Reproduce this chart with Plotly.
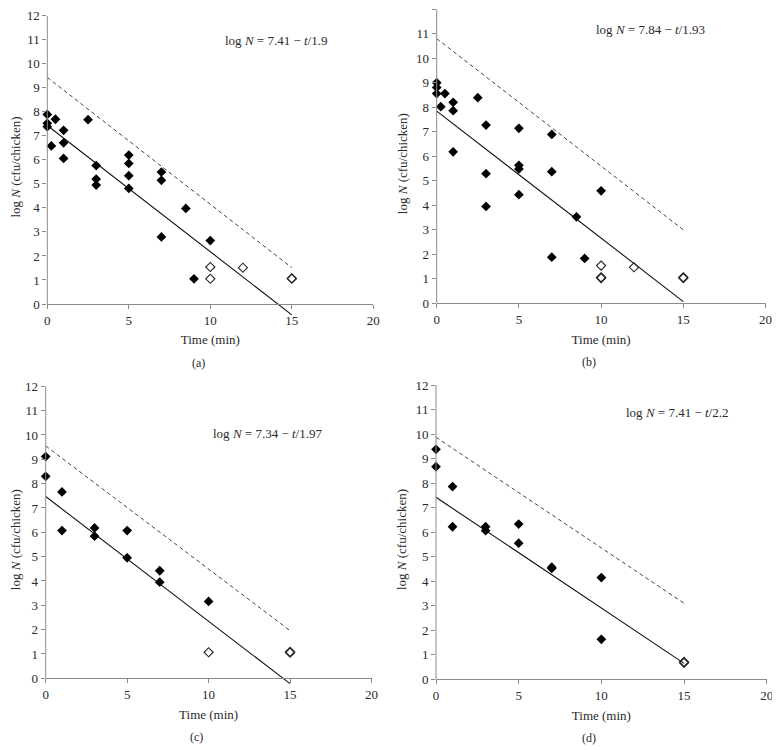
import plotly.graph_objects as go

# ---------------- data ----------------
a_filled_t = [0, 0, 0, 0.25, 0.5, 1, 1, 1, 2.5, 3, 3, 3, 5, 5, 5, 5, 7, 7, 7, 8.5, 9, 10]
a_filled_y = [7.89, 7.52, 7.38, 6.58, 7.69, 7.23, 6.71, 6.06, 7.67, 5.76, 5.20, 4.95,
              6.20, 5.85, 5.34, 4.81, 5.49, 5.15, 2.79, 3.98, 1.05, 2.64]
a_open_t = [10, 10, 12, 15, 15]
a_open_y = [1.54, 1.05, 1.51, 1.05, 1.07]
a_fit_y = [7.43, -0.45]
a_upper_y = [9.43, 1.51]

b_filled_t = [0, 0, 0, 0.25, 0.5, 1, 1, 1, 2.5, 3, 3, 3, 5, 5, 5, 5, 7, 7, 7, 8.5, 9, 10]
b_filled_y = [9.00, 8.81, 8.56, 8.02, 8.56, 8.20, 7.86, 6.18, 8.39, 7.27, 5.29, 3.95,
              7.14, 5.63, 5.48, 4.43, 6.89, 5.37, 1.88, 3.53, 1.83, 4.59]
b_open_t = [10, 10, 10, 12, 15, 15]
b_open_y = [1.54, 1.03, 1.06, 1.47, 1.03, 1.06]
b_fit_y = [7.84, 0.07]
b_upper_y = [10.8, 3.0]

c_filled_t = [0, 0, 1, 1, 3, 3, 5, 5, 7, 7, 10]
c_filled_y = [9.11, 8.30, 7.66, 6.07, 6.18, 5.84, 6.07, 4.95, 4.42, 3.95, 3.16]
c_open_t = [10, 15, 15]
c_open_y = [1.07, 1.05, 1.09]
c_fit_y = [7.47, -0.22]
c_upper_y = [9.55, 1.96]

d_filled_t = [0, 0, 1, 1, 3, 3, 5, 5, 7, 7, 10, 10]
d_filled_y = [9.38, 8.67, 7.86, 6.22, 6.22, 6.06, 6.33, 5.55, 4.52, 4.57, 4.15, 1.63]
d_open_t = [15, 15]
d_open_y = [0.67, 0.71]
d_fit_y = [7.42, 0.65]
d_upper_y = [9.87, 3.10]

fit_t = [0, 15]

equations = ["log <i>N</i> = 7.41 − <i>t</i>/1.9",
             "log <i>N</i> = 7.84 − <i>t</i>/1.93",
             "log <i>N</i> = 7.34 − <i>t</i>/1.97",
             "log <i>N</i> = 7.41 − <i>t</i>/2.2"]
panel_labels = ["(a)", "(b)", "(c)", "(d)"]
x_ticks = [0, 5, 10, 15, 20]
y_ticks = list(range(0, 13))

panels = [
    (a_filled_t, a_filled_y, a_open_t, a_open_y, a_fit_y, a_upper_y),
    (b_filled_t, b_filled_y, b_open_t, b_open_y, b_fit_y, b_upper_y),
    (c_filled_t, c_filled_y, c_open_t, c_open_y, c_fit_y, c_upper_y),
    (d_filled_t, d_filled_y, d_open_t, d_open_y, d_fit_y, d_upper_y),
]

# ---------------- layout geometry (window pixels) ----------------
OFF = 8                      # default page margin around the plot div
W, H = 780 - OFF, 750 - OFF  # figure size so that it fills the window


def px(xw):
    return (xw - OFF) / W


def py(yw):
    return 1 - (yw - OFF) / H


# x0px, x20px, y0px, y12px (window coordinates)
geom = [
    (47.3, 373.3, 304.0, 15.7),
    (436.7, 765.5, 303.3, 9.2),
    (45.7, 371.5, 678.3, 386.3),
    (436.0, 766.7, 679.3, 385.0),
]
YMIN = -0.6
eq_pos = [(276, 41), (650, 30), (267, 433), (677, 412)]

FONT = "Liberation Serif, Times New Roman, serif"
AX_COL = "#8a8a8a"
TXT_COL = "#2a2a2a"

fig = go.Figure()
layout = dict(
    width=W, height=H, margin=dict(l=0, r=0, t=0, b=0, autoexpand=False),
    paper_bgcolor="white", plot_bgcolor="white", showlegend=False,
    font=dict(family=FONT, size=13, color=TXT_COL),
)
shapes = []
annotations = []

for i, (ft, fy, ot, oy, fit_y, up_y) in enumerate(panels):
    n = "" if i == 0 else str(i + 1)
    xa, ya = "x" + n, "y" + n
    x0p, x20p, y0p, y12p = geom[i]
    ppu = (y0p - y12p) / 12.0
    ybot = y0p - YMIN * ppu
    xdom = [px(x0p), px(x20p)]
    ydom = [py(ybot), py(y12p)]

    fig.add_trace(go.Scatter(x=fit_t, y=up_y, mode="lines", xaxis=xa, yaxis=ya,
                             line=dict(color="#444444", width=1, dash="4px,3px")))
    fig.add_trace(go.Scatter(x=fit_t, y=fit_y, mode="lines", xaxis=xa, yaxis=ya,
                             line=dict(color="#111111", width=1.1)))
    fig.add_trace(go.Scatter(x=ft, y=fy, mode="markers", xaxis=xa, yaxis=ya, cliponaxis=False,
                             marker=dict(symbol="diamond", size=7.5, color="black",
                                         line=dict(width=0))))
    fig.add_trace(go.Scatter(x=ot, y=oy, mode="markers", xaxis=xa, yaxis=ya, cliponaxis=False,
                             marker=dict(symbol="diamond-open", size=7, color="#222222",
                                         line=dict(width=1.1))))

    layout["xaxis" + n] = dict(
        domain=xdom, range=[0, 20], anchor="free", position=py(y0p),
        tickmode="array", tickvals=x_ticks, ticks="outside", ticklen=4, tickcolor=AX_COL,
        showline=True, linecolor=AX_COL, linewidth=1, showgrid=False, zeroline=False,
        tickfont=dict(family=FONT, size=13, color=TXT_COL),
        title=dict(text="Time (min)", font=dict(family=FONT, size=13, color=TXT_COL), standoff=8),
    )
    layout["yaxis" + n] = dict(
        domain=ydom, range=[YMIN, 12], anchor=xa,
        tickmode="array", tickvals=y_ticks, ticks="outside", ticklen=4, tickcolor=AX_COL,
        showline=False, showgrid=False, zeroline=False,
        tickfont=dict(family=FONT, size=13, color=TXT_COL),
        title=dict(text="log <i>N</i> (cfu/chicken)", font=dict(family=FONT, size=13, color=TXT_COL),
                   standoff=5),
    )
    shapes.append(dict(type="line", xref=xa + " domain", yref=ya, x0=0, x1=0, y0=0, y1=12,
                       line=dict(color=AX_COL, width=1)))
    ex, ey = eq_pos[i]
    annotations.append(dict(text=equations[i], xref="paper", yref="paper",
                            x=px(ex), y=py(ey), showarrow=False,
                            xanchor="center", yanchor="middle",
                            font=dict(family=FONT, size=13, color=TXT_COL)))
    annotations.append(dict(text=panel_labels[i], xref="paper", yref="paper",
                            x=px((x0p + x20p) / 2 - 12), y=py(y0p + 59), showarrow=False,
                            xanchor="center", yanchor="middle",
                            font=dict(family=FONT, size=12, color=TXT_COL)))

layout["shapes"] = shapes
layout["annotations"] = annotations
fig.update_layout(**layout)
fig.write_html("out.html")
